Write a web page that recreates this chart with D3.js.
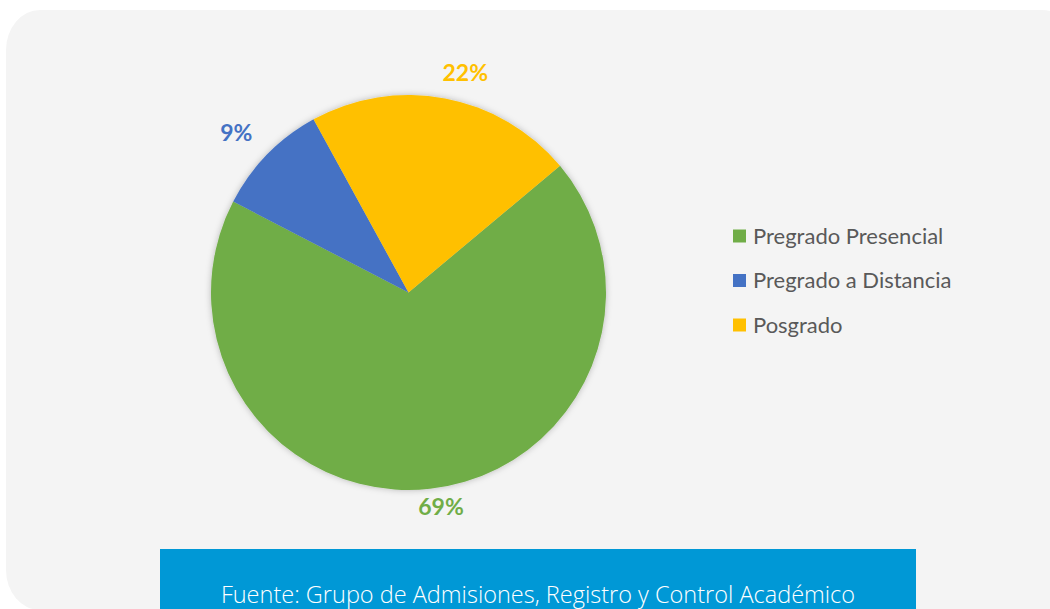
<!DOCTYPE html>
<html>
<head>
<meta charset="utf-8">
<script src="https://cdn.jsdelivr.net/npm/d3@7"></script>
<style>
  body { margin: 0; background: #ffffff; }
  svg { display: block; }
</style>
</head>
<body>
<div id="chart"></div>
<script>
// data (percent of total)
const categories = ['Pregrado Presencial', 'Pregrado a Distancia', 'Posgrado'];
const values = [68.7, 9.4, 21.9];
const colors = ['#70AD47', '#4472C4', '#FFC000'];
const source = 'Fuente: Grupo de Admisiones, Registro y Control Académico';

const width = 1050, height = 609;
const cx = 408.5, cy = 292.5, radius = 197.5;
const startDeg = 50.1;
// small nudges so the labels sit where the spreadsheet put them
const labelNudge = [[8, -10], [-11, -2], [15, 2]];

const svg = d3.select('#chart').append('svg')
    .attr('width', width)
    .attr('height', height);

const defs = svg.append('defs');
const shadow = defs.append('filter')
    .attr('id', 'shadow')
    .attr('x', '-20%').attr('y', '-20%')
    .attr('width', '140%').attr('height', '140%');
shadow.append('feDropShadow')
    .attr('dx', 0).attr('dy', 0)
    .attr('stdDeviation', 3)
    .attr('flood-color', '#000')
    .attr('flood-opacity', 0.25);

// panel background
svg.append('rect')
    .attr('x', 6).attr('y', 10)
    .attr('width', 1070).attr('height', 600)
    .attr('rx', 34).attr('ry', 40)
    .attr('fill', '#F4F4F4');

const pie = d3.pie()
    .sort(null)
    .value(d => d.value)
    .startAngle(startDeg * Math.PI / 180)
    .endAngle(startDeg * Math.PI / 180 + 2 * Math.PI);

const data = categories.map((c, i) => ({ name: c, value: values[i], color: colors[i] }));
const arcs = pie(data);

const arc = d3.arc().innerRadius(0).outerRadius(radius);

const g = svg.append('g')
    .attr('transform', 'translate(' + cx + ',' + cy + ')');

g.append('g')
    .attr('filter', 'url(#shadow)')
    .selectAll('path')
    .data(arcs)
    .enter().append('path')
    .attr('d', arc)
    .attr('fill', d => d.data.color);

// outside-end labels
const labelR = radius + 28;
g.selectAll('text.lbl')
    .data(arcs)
    .enter().append('text')
    .attr('class', 'lbl')
    .attr('x', (d, i) => {
        const a = (d.startAngle + d.endAngle) / 2;
        return labelR * Math.sin(a) + labelNudge[i][0];
    })
    .attr('y', (d, i) => {
        const a = (d.startAngle + d.endAngle) / 2;
        return -labelR * Math.cos(a) + labelNudge[i][1];
    })
    .attr('dy', '0.35em')
    .attr('text-anchor', 'middle')
    .attr('font-family', 'Lato, "Open Sans", sans-serif')
    .attr('font-weight', 'bold')
    .attr('font-size', 23)
    .attr('fill', d => d.data.color)
    .text(d => Math.round(d.data.value) + '%');

// legend
const legend = svg.append('g')
    .attr('transform', 'translate(733,236)');
const item = legend.selectAll('g')
    .data(data)
    .enter().append('g')
    .attr('transform', (d, i) => 'translate(0,' + (i * 44.5) + ')');
item.append('rect')
    .attr('x', 0).attr('y', -6.5)
    .attr('width', 13).attr('height', 13)
    .attr('fill', d => d.color);
item.append('text')
    .attr('x', 20)
    .attr('dy', '0.35em')
    .attr('font-family', 'Lato, "Open Sans", sans-serif')
    .attr('font-size', 22)
    .attr('fill', '#595959')
    .text(d => d.name);

// source box
svg.append('rect')
    .attr('x', 160).attr('y', 549)
    .attr('width', 756).attr('height', 70)
    .attr('fill', '#0098D6');
svg.append('text')
    .attr('x', 538).attr('y', 603)
    .attr('text-anchor', 'middle')
    .attr('font-family', '"Open Sans", Lato, sans-serif')
    .attr('font-weight', 300)
    .attr('font-size', 23.5)
    .attr('fill', '#ffffff')
    .text(source);
</script>
</body>
</html>
